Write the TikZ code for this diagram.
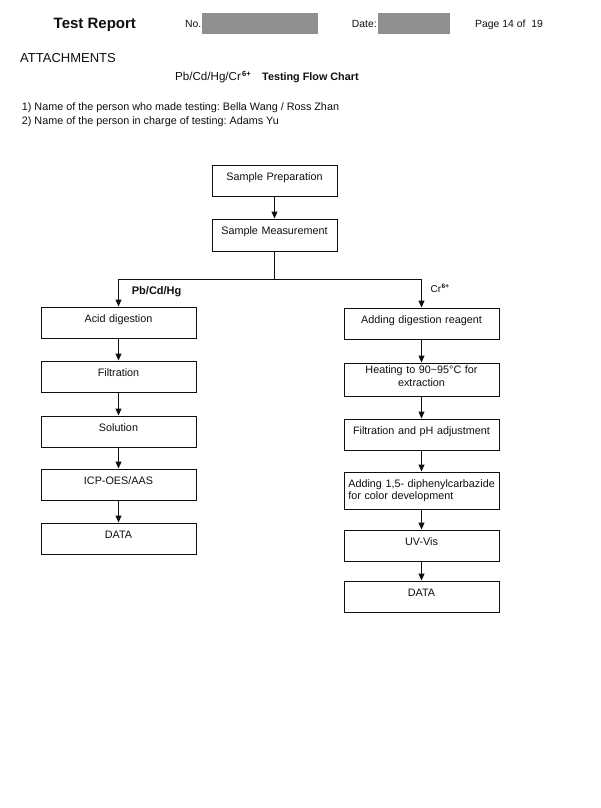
\documentclass[tikz,border=0pt]{standalone}
\usepackage{fontspec}
\setmainfont{Liberation Sans}
\usetikzlibrary{arrows.meta}
\definecolor{redact}{RGB}{143,143,143}
\definecolor{ink}{RGB}{15,15,15}
\frenchspacing
\begin{document}
\frenchspacing
\begin{tikzpicture}[x=1pt,y=-1pt,
  every node/.style={text=ink},
  box/.style={draw=ink, line width=1pt, inner sep=0pt, align=center, anchor=base,
    font=\fontsize{10.8pt}{13pt}\selectfont, text height=15pt, text depth=16pt},
  wide/.style={text width=155pt},
  narrow/.style={text width=125pt},
  arr/.style={draw=ink, line width=1pt, -{Triangle[width=6pt,length=7pt]}},
  ln/.style={draw=ink, line width=1pt},
  txt/.style={anchor=base west, inner sep=0pt},
  body/.style={font=\fontsize{10.8pt}{13pt}\selectfont},
  hidebar/.style={fill=redact, draw=none, inner sep=0pt, anchor=north west, minimum height=21pt}]
\useasboundingbox[fill=white] (0,0) rectangle (600,808);

% header
\node[txt, font=\bfseries\fontsize{15pt}{18pt}\selectfont] (tr) at (53.5,28.5) {Test Report};
\node[txt, font=\fontsize{10.4pt}{12pt}\selectfont] (no) at (185,27.2) {No.};
\node[hidebar, minimum width=116pt] (bar1) at (202,12.5) {};
\node[txt, font=\fontsize{10.4pt}{12pt}\selectfont] (date) at (351.7,27.2) {Date:};
\node[hidebar, minimum width=72pt] (bar2) at (377.3,13) {};
\node[txt, font=\fontsize{10.4pt}{12pt}\selectfont] (page) at (475,27.2) {Page 14 of\ \ 19};

\node[txt, font=\fontsize{13pt}{15pt}\selectfont] (att) at (20,62.4) {ATTACHMENTS};
\node[txt, font=\fontsize{11.6pt}{14pt}\selectfont] (ttlA) at (175,81) {Pb/Cd/Hg/Cr};
\node[txt, font=\bfseries\fontsize{7.5pt}{8pt}\selectfont] (ttlS) at (242,76) {6+};
\node[txt, font=\bfseries\fontsize{10.8pt}{13pt}\selectfont] (ttlB) at (262,81) {Testing Flow Chart};

\node[txt, body] (l1) at (21.7,110) {1) Name of the person who made testing: Bella Wang / Ross Zhan};
\node[txt, body] (l2) at (21.7,124.5) {2) Name of the person in charge of testing: Adams Yu};

% top boxes
\node[box, narrow] (sp) at (274.5,180) {Sample Preparation};
\node[box, narrow, text depth=17pt] (sm) at (274.5,234) {Sample Measurement};

% left column
\node[box, wide] (acid) at (118.5,322) {Acid digestion};
\node[box, wide] (filt) at (118.5,376) {Filtration};
\node[box, wide] (sol) at (118.5,431) {Solution};
\node[box, wide] (icp) at (118.5,484) {ICP-OES/AAS};
\node[box, wide] (dataL) at (118.5,538) {DATA};

% right column
\node[box, wide] (adr) at (421.5,323) {Adding digestion reagent};
\node[box, wide, text height=10pt, text depth=23pt, font=\fontsize{10.8pt}{13.5pt}\selectfont] (heat) at (421.5,373) {Heating to 90\textasciitilde 95\textdegree C for\\extraction};
\node[box, wide] (fph) at (421.5,434) {Filtration and pH adjustment};
\node[box, wide, align=left, text height=15.5pt, text depth=21.5pt, font=\fontsize{10.8pt}{12pt}\selectfont] (add15) at (421.5,487.5) {\hspace*{4.3pt}Adding 1,5- diphenylcarbazide\\\hspace*{4.3pt}for color development};
\node[box, wide] (uv) at (421.5,545) {UV-Vis};
\node[box, wide] (dataR) at (421.5,596) {DATA};

% branch labels
\node[txt, font=\bfseries\fontsize{11pt}{13pt}\selectfont] (lblL) at (131.7,294) {Pb/Cd/Hg};
\node[txt, font=\fontsize{10pt}{12pt}\selectfont] (lblR) at (430.5,292.2) {Cr};
\node[txt, font=\bfseries\fontsize{6.5pt}{8pt}\selectfont] (lblRs) at (lblR.base east) [yshift=3.8pt] {6+};

% connectors
\coordinate (j) at (274.5,279);
\draw[arr] (sp) -- (sm);
\draw[ln] (sm.south) -- (j);
\draw[arr] (j) -| (acid.north);
\draw[arr] (j) -| (adr.north);
\draw[arr] (acid) -- (filt);
\draw[arr] (filt) -- (sol);
\draw[arr] (sol) -- (icp);
\draw[arr] (icp) -- (dataL);
\draw[arr] (adr) -- (heat);
\draw[arr] (heat) -- (fph);
\draw[arr] (fph) -- (add15);
\draw[arr] (add15) -- (uv);
\draw[arr] (uv) -- (dataR);
\end{tikzpicture}
\end{document}
